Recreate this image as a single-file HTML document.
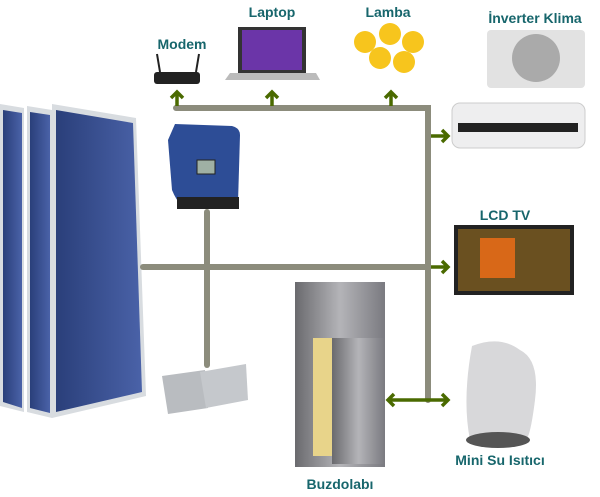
<!DOCTYPE html>
<html><head><meta charset="utf-8"><style>
body{margin:0;background:#fff;width:600px;height:497px;overflow:hidden;position:relative;font-family:"Liberation Sans",sans-serif}
.l{position:absolute;color:#17666c;font-weight:bold;font-size:14px;white-space:nowrap;transform:translateX(-50%)}
</style></head><body>
<svg width="600" height="497" style="position:absolute;left:0;top:0">
<defs>
<linearGradient id="pn" x1="0" x2="1"><stop offset="0" stop-color="#2a3f7a"/><stop offset="1" stop-color="#4a62a8"/></linearGradient>
<linearGradient id="mt" x1="0" x2="1"><stop offset="0" stop-color="#6a6a6e"/><stop offset=".5" stop-color="#b4b4b8"/><stop offset="1" stop-color="#7a7a80"/></linearGradient>
</defs>
<!-- solar panels -->
<polygon points="0,104 24,108 24,412 0,406" fill="#d8dce0"/>
<polygon points="3,110 22,113 22,408 3,402" fill="url(#pn)"/>
<polygon points="27,106 52,110 52,418 27,412" fill="#d8dce0"/>
<polygon points="30,112 50,115 50,413 30,408" fill="url(#pn)"/>
<polygon points="52,104 136,118 146,396 52,418" fill="#d8dce0"/>
<polygon points="56,110 133,123 142,392 56,412" fill="url(#pn)"/>
<!-- inverter -->
<path d="M175,124 L232,126 Q240,128 240,135 L238,203 L182,206 Q176,200 172,190 L168,140 Z" fill="#2d4d96"/>
<rect x="177" y="197" width="62" height="12" fill="#222"/>
<rect x="197" y="160" width="18" height="14" fill="#9fb0a4" stroke="#222"/>
<!-- lines -->
<g stroke="#8c8c7c" stroke-width="6" fill="none" stroke-linecap="round">
<path d="M176,108 H428 V400"/>
<path d="M143,267 H428"/>
<path d="M207,212 V365"/>
</g>
<g stroke="#4a6a00" stroke-width="3.5" fill="none">
<path d="M177,106 V92 M171,98 L177,92 L183,98"/>
<path d="M272,106 V92 M266,98 L272,92 L278,98"/>
<path d="M391,106 V92 M385,98 L391,92 L397,98"/>
<path d="M431,136 H448 M442,130 L448,136 L442,142"/>
<path d="M431,267 H448 M442,261 L448,267 L442,273"/>
<path d="M388,400 H448 M442,394 L448,400 L442,406 M394,394 L388,400 L394,406"/>
</g>
<!-- modem -->
<rect x="154" y="72" width="46" height="12" rx="3" fill="#222"/>
<line x1="160" y1="72" x2="157" y2="54" stroke="#222" stroke-width="2"/><line x1="196" y1="72" x2="199" y2="54" stroke="#222" stroke-width="2"/>
<!-- laptop -->
<rect x="238" y="27" width="68" height="46" fill="#333"/><rect x="242" y="30" width="60" height="40" fill="#6b35a8"/>
<polygon points="225,80 320,80 316,73 230,73" fill="#bbb"/>
<!-- bulbs -->
<g fill="#f7c51d"><circle cx="365" cy="42" r="11"/><circle cx="390" cy="34" r="11"/><circle cx="413" cy="42" r="11"/><circle cx="380" cy="58" r="11"/><circle cx="404" cy="62" r="11"/></g>
<!-- AC units -->
<rect x="487" y="30" width="98" height="58" rx="4" fill="#e2e2e2"/><circle cx="536" cy="58" r="24" fill="#aaa"/>
<rect x="452" y="103" width="133" height="45" rx="8" fill="#eeeeef" stroke="#ccc"/><rect x="458" y="123" width="120" height="9" fill="#222"/>
<!-- TV -->
<rect x="454" y="225" width="120" height="70" fill="#222"/><rect x="458" y="229" width="112" height="62" fill="#6a5020"/>
<rect x="480" y="238" width="35" height="40" fill="#d86818"/>
<!-- batteries -->
<polygon points="162,376 205,370 208,408 168,414" fill="#b9bcc0"/>
<polygon points="200,372 246,364 248,400 206,408" fill="#c5c8cc"/>
<!-- fridge -->
<rect x="295" y="282" width="90" height="185" fill="url(#mt)"/>
<rect x="313" y="338" width="33" height="118" fill="#e8d48a"/>
<rect x="332" y="338" width="53" height="126" fill="url(#mt)"/>
<!-- kettle -->
<path d="M472,346 Q500,335 520,350 Q540,360 535,400 Q530,440 525,440 L470,440 Q462,400 472,346Z" fill="#d8d8da"/>
<ellipse cx="498" cy="440" rx="32" ry="8" fill="#555"/>
</svg>
<div class="l" style="left:182px;top:36px">Modem</div>
<div class="l" style="left:272px;top:4px">Laptop</div>
<div class="l" style="left:388px;top:4px">Lamba</div>
<div class="l" style="left:535px;top:10px">İnverter Klima</div>
<div class="l" style="left:505px;top:207px">LCD TV</div>
<div class="l" style="left:340px;top:476px">Buzdolabı</div>
<div class="l" style="left:500px;top:452px">Mini Su Isıtıcı</div>
</body></html>
